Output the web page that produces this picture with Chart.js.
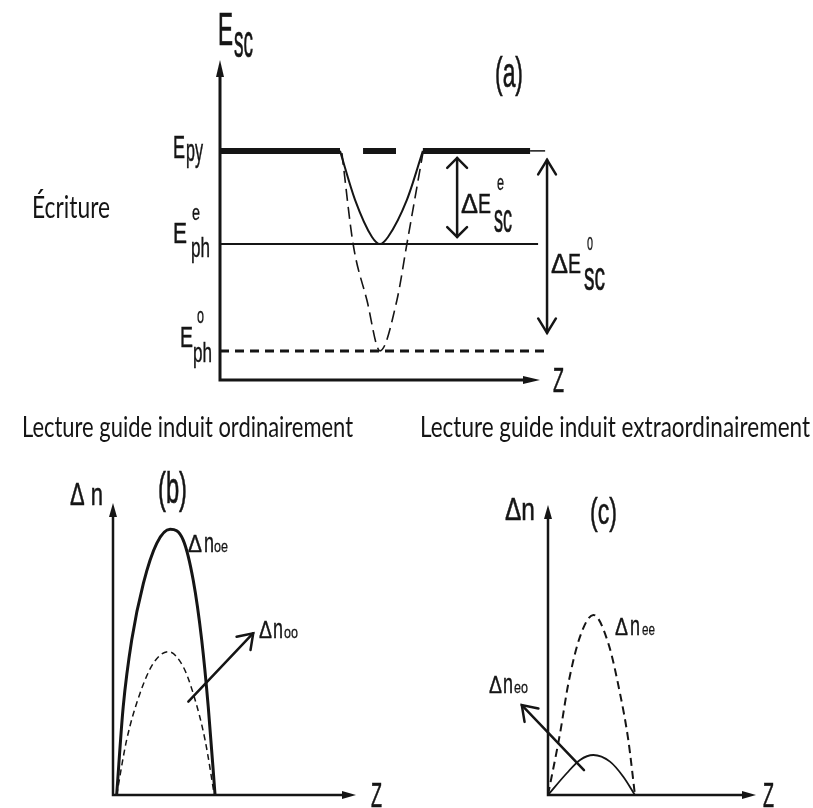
<!DOCTYPE html>
<html>
<head>
<meta charset="utf-8">
<script src="https://cdn.jsdelivr.net/npm/chart.js@4.4.1/dist/chart.umd.min.js"></script>
<style>
  html, body { margin: 0; padding: 0; background: #fff; }
  body { width: 813px; height: 808px; position: relative; overflow: hidden; }
  canvas { position: absolute; }
  #chartA { left: 0; top: 0; }
  #chartB { left: 0; top: 450px; }
  #chartC { left: 406px; top: 450px; }
</style>
</head>
<body>
<canvas id="chartA" width="813" height="450"></canvas>
<canvas id="chartB" width="406" height="358"></canvas>
<canvas id="chartC" width="407" height="358"></canvas>
<script>
// ---- (a) Ecriture : energy levels, x = Z, y = E_sc (both 0..10)
const levelEpy = 7.16;
const levelEphE = 4.25;
const levelEphO = 0.91;
const epyThick = [[0, 3.75], [4.47, 5.5], [6.34, 9.69]];
const epyThin = [9.69, 10.16];
const ephEEnd = 9.94;
const ephOEnd = 10.16;
const aSolidX = [3.75, 4.22, 4.75, 5.0, 5.25, 5.84, 6.34];
const aSolidY = [7.16, 5.63, 4.47, 4.25, 4.47, 5.63, 7.16];
const aDashX = [3.81, 4.16, 4.59, 5.0, 5.53, 5.84, 6.34];
const aDashY = [7.09, 4.25, 2.5, 0.91, 2.5, 4.25, 7.09];
const aArrowX = [7.41, 10.22];
const aArrowTop = [6.94, 6.88];
const aArrowBot = [4.47, 1.47];

// ---- (b) lecture guide induit ordinairement
const bOeX = [0.15, 0.42, 0.77, 1.25, 1.80, 2.35, 2.89, 3.30, 3.65, 3.92, 4.20];
const bOeY = [0, 3.02, 5.31, 7.25, 8.62, 9.10, 8.73, 7.36, 5.31, 3.02, 0];
const bOoX = [0.15, 0.56, 1.11, 1.66, 2.28, 2.89, 3.30, 3.79, 4.17];
const bOoY = [0, 1.88, 3.48, 4.51, 4.91, 4.39, 3.48, 1.88, 0];
const bArrowFrom = [3.10, 3.20];
const bArrowTo = [5.77, 5.54];

// ---- (c) lecture guide induit extraordinairement
const cEeX = [0, 0.58, 0.98, 1.54, 2.18, 2.90, 3.46, 3.86, 4.18];
const cEeY = [0, 2.13, 3.85, 5.46, 6.21, 5.23, 3.51, 1.90, 0];
const cEoX = [0, 0.90, 1.54, 2.18, 2.98, 3.62, 4.18];
const cEoY = [0, 0.75, 1.21, 1.38, 1.15, 0.63, 0];
const cArrowFrom = [1.73, 0.86];
const cArrowTo = [-1.26, 3.10];

const INK = '#151515';
const LBL = '"Liberation Sans", Arial, sans-serif';
const HUM = 'Lato, "Open Sans", sans-serif';

// text squeezed to a given width (the original uses a condensed face)
function put(ctx, s, x, y, size, w, fam) {
  ctx.save();
  ctx.font = size + 'px ' + (fam || LBL);
  const m = ctx.measureText(s).width;
  ctx.translate(x, y);
  ctx.scale(w / m, 1);
  ctx.fillStyle = INK;
  ctx.textBaseline = 'alphabetic';
  ctx.fillText(s, 0, 0);
  if (!fam) {
    // condensed glyphs get thin stems, thicken them a little
    ctx.strokeStyle = INK;
    ctx.lineWidth = size * 0.016;
    ctx.strokeText(s, 0, 0);
  }
  ctx.restore();
}

function chev(ctx, tx, ty, ang, len, th) {
  ctx.beginPath();
  ctx.moveTo(tx + len * Math.cos(ang + Math.PI - th), ty + len * Math.sin(ang + Math.PI - th));
  ctx.lineTo(tx, ty);
  ctx.lineTo(tx + len * Math.cos(ang + Math.PI + th), ty + len * Math.sin(ang + Math.PI + th));
  ctx.stroke();
}

const line = (xs, ys, opts) => Object.assign({
  data: xs.map((x, i) => ({ x: x, y: ys[i] })),
  showLine: true,
  borderColor: INK,
  borderWidth: 2,
  pointRadius: 0,
  clip: false,
  cubicInterpolationMode: 'monotone'
}, opts);

function axesPlugin(lw, headLen, headHalf) {
  return {
    id: 'axes',
    beforeDatasetsDraw(chart) {
      const { ctx, chartArea: { left, right, top, bottom } } = chart;
      ctx.save();
      ctx.strokeStyle = INK;
      ctx.fillStyle = INK;
      ctx.lineWidth = lw;
      ctx.beginPath();
      ctx.moveTo(left, top + headLen - 1);
      ctx.lineTo(left, bottom);
      ctx.lineTo(right - headLen + 1, bottom);
      ctx.stroke();
      ctx.beginPath();
      ctx.moveTo(left, top);
      ctx.lineTo(left - headHalf, top + headLen);
      ctx.lineTo(left + headHalf, top + headLen);
      ctx.closePath();
      ctx.fill();
      ctx.beginPath();
      ctx.moveTo(right, bottom);
      ctx.lineTo(right - headLen, bottom - headHalf);
      ctx.lineTo(right - headLen, bottom + headHalf);
      ctx.closePath();
      ctx.fill();
      ctx.restore();
    }
  };
}

function labelsPlugin(list) {
  return {
    id: 'labels',
    afterDraw(chart) {
      list.forEach(t => put(chart.ctx, t[0], t[1], t[2], t[3], t[4], t[5]));
    }
  };
}

function arrowPlugin(draw) {
  return {
    id: 'arrows',
    afterDatasetsDraw(chart) {
      const ctx = chart.ctx;
      const sx = chart.scales.x, sy = chart.scales.y;
      ctx.save();
      ctx.strokeStyle = INK;
      ctx.lineCap = 'round';
      ctx.lineJoin = 'miter';
      draw(ctx, v => sx.getPixelForValue(v), v => sy.getPixelForValue(v));
      ctx.restore();
    }
  };
}

function makeChart(id, datasets, pad, plugins) {
  return new Chart(document.getElementById(id), {
    type: 'scatter',
    data: { datasets: datasets },
    options: {
      responsive: false,
      animation: false,
      events: [],
      layout: { padding: pad },
      plugins: { legend: { display: false }, tooltip: { enabled: false } },
      scales: {
        x: { type: 'linear', min: 0, max: 10, display: false },
        y: { type: 'linear', min: 0, max: 10, display: false }
      }
    },
    plugins: plugins
  });
}

// (a)
const aSets = epyThick.map(s => line(s, [levelEpy, levelEpy], { borderWidth: 6, borderCapStyle: 'butt' }));
aSets.push(line(epyThin, [levelEpy, levelEpy], { borderWidth: 1.5 }));
aSets.push(line([0, ephEEnd], [levelEphE, levelEphE], { borderWidth: 2 }));
aSets.push(line([0, ephOEnd], [levelEphO, levelEphO], { borderWidth: 3, borderDash: [9, 6] }));
aSets.push(line(aSolidX, aSolidY, { borderWidth: 2 }));
aSets.push(line(aDashX, aDashY, { borderWidth: 1.6, borderDash: [12, 6] }));

makeChart('chartA', aSets, { left: 220, right: 273, top: 60, bottom: 70 }, [
  axesPlugin(3, 17, 4),
  arrowPlugin((ctx, px, py) => {
    ctx.lineWidth = 2.5;
    const heads = [[Math.PI / 4, 14], [0.55, 17]];
    aArrowX.forEach((x, i) => {
      const X = px(x), T = py(aArrowTop[i]), B = py(aArrowBot[i]);
      ctx.beginPath(); ctx.moveTo(X, T); ctx.lineTo(X, B); ctx.stroke();
      chev(ctx, X, T, -Math.PI / 2, heads[i][1], heads[i][0]);
      chev(ctx, X, B, Math.PI / 2, heads[i][1], heads[i][0]);
    });
  }),
  labelsPlugin([
    ['E', 218, 45, 46, 15], ['sc', 234, 57, 46, 19],
    ['(a)', 495, 87, 42, 28],
    ['Écriture', 32, 218, 30, 78, HUM],
    ['E', 173, 158, 32, 12], ['py', 186, 161, 32, 17],
    ['E', 173, 243, 30, 14], ['e', 192, 220, 22, 8], ['ph', 191, 257, 28, 19],
    ['E', 180, 347, 30, 13], ['o', 197, 323, 22, 7], ['ph', 193, 362, 28, 19],
    ['Δ', 461, 213, 28, 17], ['E', 478, 213, 28, 13], ['e', 497, 190, 22, 7], ['sc', 494, 232, 40, 18],
    ['Δ', 551, 273, 28, 17], ['E', 568, 273, 28, 13], ['o', 587, 250, 23, 6], ['sc', 584, 290, 40, 21],
    ['Z', 553, 392, 35, 11],
    ['Lecture guide induit ordinairement', 22, 437, 28, 331, HUM],
    ['Lecture guide induit extraordinairement', 420, 437, 28, 390, HUM]
  ])
]);

// (b)
makeChart('chartB', [
  line(bOeX, bOeY, { borderWidth: 3 }),
  line(bOoX, bOoY, { borderWidth: 1.5, borderDash: [6, 4] })
], { left: 113, right: 50, top: 53, bottom: 13 }, [
  axesPlugin(2.5, 14, 4),
  arrowPlugin((ctx, px, py) => {
    ctx.lineWidth = 2.5;
    const x1 = px(bArrowFrom[0]), y1 = py(bArrowFrom[1]), x2 = px(bArrowTo[0]), y2 = py(bArrowTo[1]);
    ctx.beginPath(); ctx.moveTo(x1, y1); ctx.lineTo(x2, y2); ctx.stroke();
    chev(ctx, x2, y2, Math.atan2(y2 - y1, x2 - x1), 17, 0.6);
  }),
  labelsPlugin([
    ['Δ n', 70, 55, 31, 33],
    ['(b)', 158, 53, 44, 29],
    ['Δ', 188, 102, 24, 14], ['n', 204, 102, 28, 10], ['oe', 214, 102, 17, 14],
    ['Δ', 259, 188, 24, 13], ['n', 273, 188, 28, 10], ['oo', 284, 188, 17, 14],
    ['Z', 371, 357, 35, 11]
  ])
]);

// (c)
makeChart('chartC', [
  line(cEeX, cEeY, { borderWidth: 2, borderDash: [8, 5] }),
  line(cEoX, cEoY, { borderWidth: 1.8 })
], { left: 142, right: 57, top: 55, bottom: 13 }, [
  axesPlugin(2.5, 14, 4),
  arrowPlugin((ctx, px, py) => {
    ctx.lineWidth = 2.5;
    const x1 = px(cArrowFrom[0]), y1 = py(cArrowFrom[1]), x2 = px(cArrowTo[0]), y2 = py(cArrowTo[1]);
    ctx.beginPath(); ctx.moveTo(x1, y1); ctx.lineTo(x2, y2); ctx.stroke();
    chev(ctx, x2, y2, Math.atan2(y2 - y1, x2 - x1), 17, 0.6);
  }),
  labelsPlugin([
    ['Δn', 99, 70, 32, 30],
    ['(c)', 184, 74, 37, 27],
    ['Δ', 209, 185, 24, 13], ['n', 224, 185, 28, 10], ['ee', 236, 185, 17, 13],
    ['Δ', 83, 243, 24, 13], ['n', 97, 243, 28, 10], ['eo', 108, 243, 17, 14],
    ['Z', 357, 357, 35, 11]
  ])
]);
</script>
</body>
</html>
